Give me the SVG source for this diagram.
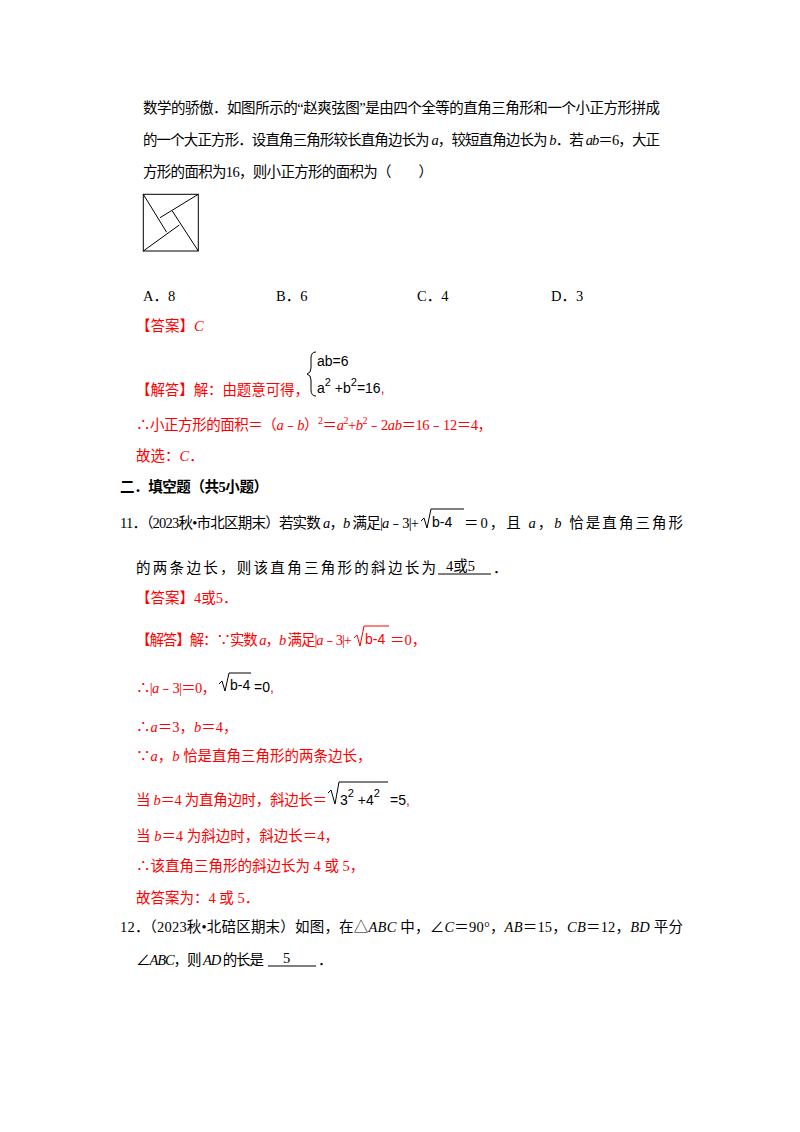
<svg xmlns="http://www.w3.org/2000/svg" width="800" height="1132" viewBox="0 0 800 1132">
<style>
text{font-family:"Liberation Serif","Noto Sans CJK SC",serif;font-size:14.5px;fill:#000}
.r{fill:#f00}
.i{font-style:italic}
.m{font-family:"Liberation Sans","Noto Sans CJK SC",sans-serif;font-size:14px}
.ln{stroke:#000;stroke-width:1;fill:none}
.rl{stroke:#f00;stroke-width:1;fill:none}
</style>
<rect width="800" height="1132" fill="#fff"/>
<text x="143" y="113" textLength="517" lengthAdjust="spacing">数学的骄傲．如图所示的“赵爽弦图”是由四个全等的直角三角形和一个小正方形拼成</text>
<text x="143" y="145" textLength="517" lengthAdjust="spacing">的一个大正方形．设直角三角形较长直角边长为 <tspan class="i">a</tspan>，较短直角边长为 <tspan class="i">b</tspan>．若 <tspan class="i">ab</tspan>＝6，大正</text>
<text x="143" y="177" textLength="290" lengthAdjust="spacing">方形的面积为16，则小正方形的面积为（　　）</text>
<g id="figure">
<rect x="143.3" y="194.3" width="55" height="56.7" class="ln"/>
<line x1="198.3" y1="194.3" x2="160" y2="217.7" class="ln"/>
<line x1="143.3" y1="194.3" x2="166.7" y2="232.3" class="ln"/>
<line x1="143.3" y1="251" x2="179.3" y2="225" class="ln"/>
<line x1="198.3" y1="251" x2="172.3" y2="211" class="ln"/>
</g>
<text x="143" y="301">A．8</text>
<text x="276" y="301">B．6</text>
<text x="417" y="301">C．4</text>
<text x="551" y="301">D．3</text>
<text x="136" y="331" class="r">【答案】<tspan class="i">C</tspan></text>
<text x="136" y="395" class="r" textLength="173" lengthAdjust="spacing">【解答】解：由题意可得，</text>
<path d="M316,352 Q311,352 311,358 L311,368 Q311,373 307,374 Q311,375 311,380 L311,390 Q311,396 316,396" class="ln"/>
<text x="317" y="366" class="m">ab=6</text>
<text x="317" y="393" class="m">a<tspan dy="-7" font-size="11">2</tspan><tspan dy="7"> +b</tspan><tspan dy="-7" font-size="11">2</tspan><tspan dy="7">=16</tspan><tspan class="r">,</tspan></text>
<text x="136" y="430" class="r" textLength="356" lengthAdjust="spacing">∴小正方形的面积＝（<tspan class="i">a</tspan>﹣<tspan class="i">b</tspan>）<tspan dy="-6" font-size="10">2</tspan><tspan dy="6">＝</tspan><tspan class="i">a</tspan><tspan dy="-6" font-size="10">2</tspan><tspan dy="6">+</tspan><tspan class="i">b</tspan><tspan dy="-6" font-size="10">2</tspan><tspan dy="6">﹣2</tspan><tspan class="i">ab</tspan>＝16﹣12＝4，</text>
<text x="136" y="461" class="r">故选：<tspan class="i">C</tspan>．</text>
<text x="120" y="492" font-weight="bold" textLength="148" lengthAdjust="spacing">二．填空题（共5小题）</text>
<text x="120" y="528" textLength="299" lengthAdjust="spacing">11．（2023秋•市北区期末）若实数 <tspan class="i">a</tspan>，<tspan class="i">b</tspan> 满足|<tspan class="i">a</tspan>﹣3|+</text>
<path d="M421,521 L424,518 L427,528 L431,509 L464,509" class="ln"/>
<text x="432" y="527" class="m">b-4</text>
<text x="464" y="528" textLength="219" lengthAdjust="spacing">＝0，且 <tspan class="i">a</tspan>，<tspan class="i">b</tspan> 恰是直角三角形</text>
<text x="136" y="573" textLength="300" lengthAdjust="spacing">的两条边长，则该直角三角形的斜边长为</text>
<text x="446" y="571">4或5</text>
<line x1="438" y1="574" x2="491" y2="574" class="ln"/>
<text x="493" y="573">．</text>
<text x="136" y="603" class="r">【答案】4或5．</text>
<text x="136" y="645" class="r" textLength="216" lengthAdjust="spacing">【解答】解：∵实数 <tspan class="i">a</tspan>，<tspan class="i">b</tspan> 满足|<tspan class="i">a</tspan>﹣3|+</text>
<path d="M354,638 L357,635 L360,646 L364,626 L389,626" class="rl"/>
<text x="365" y="644" class="m r">b-4</text>
<text x="390" y="645" class="r">＝0，</text>
<text x="136" y="693" class="r" textLength="80" lengthAdjust="spacing">∴|<tspan class="i">a</tspan>﹣3|＝0，</text>
<path d="M219,684 L222,681 L225,691 L229,673 L251,673" class="ln"/>
<text x="230" y="690" class="m">b-4</text>
<text x="254" y="692" class="m">=0<tspan class="r">,</tspan></text>
<text x="136" y="732" class="r">∴<tspan class="i">a</tspan>＝3，<tspan class="i">b</tspan>＝4，</text>
<text x="136" y="761" class="r">∵<tspan class="i">a</tspan>，<tspan class="i">b</tspan> 恰是直角三角形的两条边长，</text>
<text x="136" y="805" class="r" textLength="191" lengthAdjust="spacing">当 <tspan class="i">b</tspan>＝4 为直角边时，斜边长＝</text>
<path d="M328,793 L331,790 L335,804 L339,782 L388,782" class="ln"/>
<text x="340" y="805" class="m">3<tspan dy="-8" font-size="11">2</tspan><tspan dy="8"> +4</tspan><tspan dy="-8" font-size="11">2</tspan></text>
<text x="390" y="805" class="m">=5<tspan class="r">,</tspan></text>
<text x="136" y="841" class="r">当 <tspan class="i">b</tspan>＝4 为斜边时，斜边长＝4，</text>
<text x="136" y="871" class="r">∴该直角三角形的斜边长为 4 或 5，</text>
<text x="136" y="903" class="r">故答案为：4 或 5．</text>
<text x="120" y="932" textLength="563" lengthAdjust="spacing">12．（2023秋•北碚区期末）如图，在△<tspan class="i">ABC</tspan> 中，∠<tspan class="i">C</tspan>＝90°，<tspan class="i">AB</tspan>＝15，<tspan class="i">CB</tspan>＝12，<tspan class="i">BD</tspan> 平分</text>
<text x="136" y="965" textLength="128" lengthAdjust="spacing">∠<tspan class="i">ABC</tspan>，则 <tspan class="i">AD</tspan> 的长是</text>
<text x="283" y="963">5</text>
<line x1="268" y1="966" x2="316" y2="966" class="ln"/>
<text x="318" y="965">．</text>
</svg>
